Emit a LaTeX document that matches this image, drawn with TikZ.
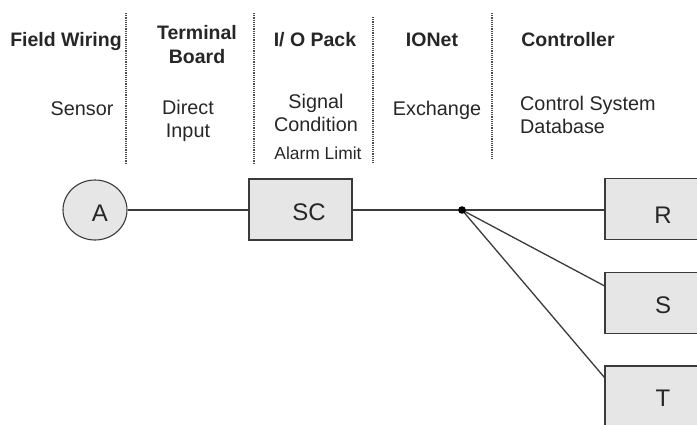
\documentclass[tikz,border=0pt]{standalone}
\usepackage{fontspec}
\setmainfont{Liberation Sans}
\usetikzlibrary{shapes.geometric,calc}
\definecolor{boxfill}{HTML}{E6E6E6}
\definecolor{edge}{HTML}{3A3A3A}
\definecolor{ink}{HTML}{262626}
\tikzset{
  head/.style={anchor=base, align=center, text=ink, inner sep=0pt,
    font=\fontsize{19.5}{24}\selectfont\bfseries},
  desc/.style={anchor=base, align=center, text=ink, inner sep=0pt,
    font=\fontsize{19.8}{22.5}\selectfont},
  small/.style={anchor=base, text=ink, inner sep=0pt,
    font=\fontsize{17.4}{19}\selectfont},
  divider/.style={draw=edge!90, line width=1.7pt, dash pattern=on 1.1pt off 1.1pt},
  unit/.style={draw=edge, line width=1.3pt, fill=boxfill, rectangle,
    minimum width=103pt, minimum height=61pt, inner sep=0pt},
  sensor/.style={draw=edge, line width=1.1pt, fill=boxfill, ellipse,
    minimum width=64pt, minimum height=60pt, inner sep=0pt},
  tag/.style={text=ink, inner sep=0pt, font=\fontsize{24}{24}\selectfont},
  wire/.style={draw=edge, line width=1.3pt},
}
\begin{document}
\begin{tikzpicture}[x=1pt, y=-1pt]
  \useasboundingbox (0,0) rectangle (697,424);

  % column dividers
  \coordinate (d1t) at (126,13);  \coordinate (d1b) at (126,163);
  \coordinate (d2t) at (254,13);  \coordinate (d2b) at (254,163);
  \coordinate (d3t) at (373,17);  \coordinate (d3b) at (373,163);
  \coordinate (d4t) at (492,13);  \coordinate (d4b) at (492,160);
  \draw[divider] (d1t) -- (d1b);
  \draw[divider] (d2t) -- (d2b);
  \draw[divider] (d3t) -- (d3b);
  \draw[divider] (d4t) -- (d4b);

  % column headings (multi-line nodes sit on the baseline of their last line)
  \node[head] (hfield) at (66,46) {Field Wiring};
  \node[head] (hterm) at (197,63) {Terminal\\Board};
  \node[head] (hpack) at (315,46) {I/ O Pack};
  \node[head] (hnet) at (432,46) {IONet};
  \node[head] (hctrl) at (568,46) {Controller};

  % column descriptions
  \node[desc] (tsensor) at (82,115) {Sensor};
  \node[desc] (tinput) at (188,137) {Direct\\Input};
  \node[desc] (tsignal) at (316,131) {Signal\\Condition};
  \node[small] (talarm) at (318,159) {Alarm Limit};
  \node[desc] (texch) at (437,115) {Exchange};
  \node[desc, align=left, anchor=base west] (tdb) at (520,133) {Control System\\Database};

  % signal path
  \node[sensor] (a) at (95,210) {};
  \node[tag] (atag) at (100,213) {A};
  \node[unit] (sc) at (300.5,209.5) {};
  \node[tag] (sctag) at (309,212) {SC};
  \node[unit] (r) at (656.5,209) {};
  \node[tag] (rtag) at (663,215) {R};
  \node[unit] (s) at (656.5,303) {};
  \node[tag] (stag) at (663,305) {S};
  \node[unit] (t) at (656.5,396.5) {};
  \node[tag] (ttag) at (663,398) {T};

  \coordinate (hub) at (462,210);
  \coordinate (sin) at ($(s.north west)+(0,14)$);
  \coordinate (tin) at ($(t.north west)+(0,12)$);

  \draw[wire] (a.east) -- (sc.west |- a.east);
  \draw[wire] (sc.east |- hub) -- (hub);
  \draw[wire] (hub) -- (r.west |- hub);
  \draw[wire] (hub) -- (sin);
  \draw[wire] (hub) -- (tin);
  \fill[black] (hub) circle (3.8pt);
\end{tikzpicture}
\end{document}
